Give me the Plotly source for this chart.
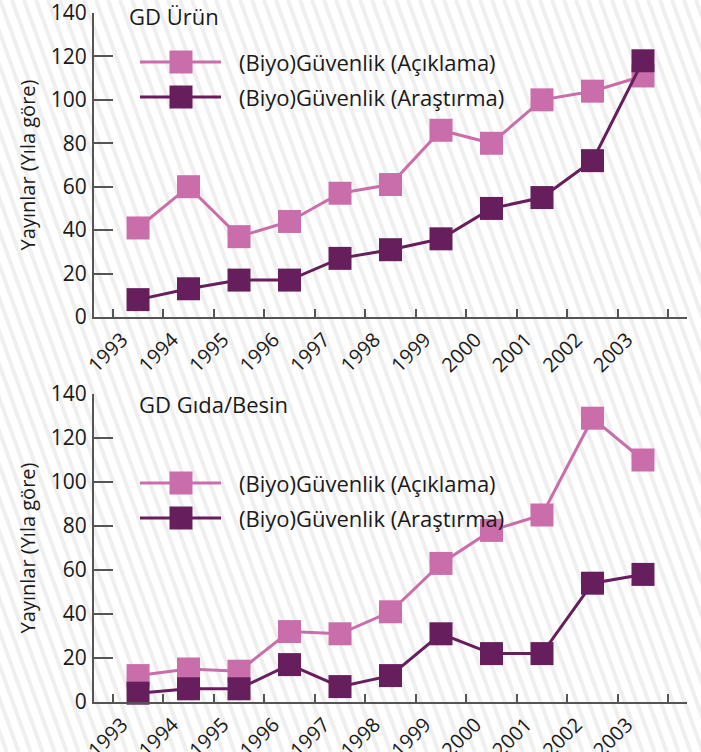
import plotly.graph_objects as go

years = ["1993", "1994", "1995", "1996", "1997", "1998", "1999", "2000", "2001", "2002", "2003"]

urun_aciklama = [41, 60, 37, 44, 57, 61, 86, 80, 100, 104, 111]
urun_arastirma = [8, 13, 17, 17, 27, 31, 36, 50, 55, 72, 118]

gida_aciklama = [12, 15, 14, 32, 31, 41, 63, 78, 85, 129, 110]
gida_arastirma = [4, 6, 6, 17, 7, 12, 31, 22, 22, 54, 58]

y_ticks = [0, 20, 40, 60, 80, 100, 120, 140]
label_aciklama = "(Biyo)Güvenlik (Açıklama)"
label_arastirma = "(Biyo)Güvenlik (Araştırma)"
y_title = "Yayınlar (Yıla göre)"
titles = ["GD Ürün", "GD Gıda/Besin"]

PINK = "#C96DAB"
DARK = "#661F5C"
AXIS = "#555555"
TXT = "#1a1a1a"
FONT = "Open Sans"
W, H = 701, 752

fig = go.Figure()

def add_series(xa, ya, vals, color, name):
    fig.add_trace(go.Scatter(
        x=years, y=vals, xaxis=xa, yaxis=ya, name=name, mode="lines+markers",
        line=dict(color=color, width=3),
        marker=dict(symbol="square", size=23, color=color),
        cliponaxis=False, showlegend=False,
    ))

add_series("x", "y", urun_aciklama, PINK, label_aciklama)
add_series("x", "y", urun_arastirma, DARK, label_arastirma)
add_series("x2", "y2", gida_aciklama, PINK, label_aciklama)
add_series("x2", "y2", gida_arastirma, DARK, label_arastirma)

def px(x):
    return x / W

def py(y):
    return 1 - y / H

xdom = [px(94), px(687)]
ydom1 = [py(317), py(13)]
ydom2 = [py(702), py(394)]

xaxis_style = dict(
    type="category", domain=xdom, showline=True, linecolor=AXIS, linewidth=2,
    ticks="inside", tickson="boundaries", ticklen=8, tickwidth=2, tickcolor=AXIS,
    tickangle=-45, tickfont=dict(family=FONT, size=20, color=TXT),
    ticklabelshift=-16, ticklabelstandoff=1, ticklabeloverflow="allow",
    showgrid=False, zeroline=False, fixedrange=True, automargin=False,
)
yaxis_style = dict(
    range=[0, 140], tickvals=y_ticks, showline=True, linecolor=AXIS, linewidth=2,
    ticks="inside", ticklen=19, tickwidth=2, tickcolor=AXIS,
    tickfont=dict(family=FONT, size=21, color=TXT), ticklabelstandoff=1,
    ticklabeloverflow="allow",
    showgrid=False, zeroline=False, fixedrange=True, automargin=False,
    title=dict(text=y_title, font=dict(family=FONT, size=20, color=TXT), standoff=10),
)

fig.update_layout(
    width=W, height=H, margin=dict(l=0, r=0, t=0, b=0),
    paper_bgcolor="white", plot_bgcolor="rgba(0,0,0,0)",
    xaxis=dict(xaxis_style, anchor="y"),
    yaxis=dict(yaxis_style, domain=ydom1, anchor="x"),
    xaxis2=dict(xaxis_style, anchor="y2"),
    yaxis2=dict(yaxis_style, domain=ydom2, anchor="x2"),
    showlegend=False,
)

shapes = []
# diagonal background stripes
segs = []
sx = -300
while sx < W + 10:
    segs.append(f"M {px(sx):.4f} 1 L {px(sx + 0.36 * H):.4f} 0")
    sx += 12
shapes.append(dict(type="path", path=" ".join(segs), xref="paper", yref="paper",
                   line=dict(color="#EFEFEF", width=4), layer="below"))

annotations = []
# titles
annotations.append(dict(text=titles[0], x=px(127), y=py(16), xref="paper", yref="paper",
                        xanchor="left", yanchor="middle", showarrow=False,
                        font=dict(family=FONT, size=22, color=TXT)))
annotations.append(dict(text=titles[1], x=px(137), y=py(404), xref="paper", yref="paper",
                        xanchor="left", yanchor="middle", showarrow=False,
                        font=dict(family=FONT, size=22, color=TXT)))

# legends (drawn as keys)
def legend_item(ypix, color, text):
    shapes.append(dict(type="line", xref="paper", yref="paper",
                       x0=px(140), x1=px(221), y0=py(ypix), y1=py(ypix),
                       line=dict(color=color, width=3)))
    shapes.append(dict(type="rect", xref="paper", yref="paper",
                       x0=px(169.5), x1=px(192.5), y0=py(ypix + 11.5), y1=py(ypix - 11.5),
                       fillcolor=color, line=dict(width=0)))
    annotations.append(dict(text=text, x=px(237), y=py(ypix), xref="paper", yref="paper",
                            xanchor="left", yanchor="middle", showarrow=False,
                            font=dict(family=FONT, size=22, color=TXT)))

legend_item(62, PINK, label_aciklama)
legend_item(97, DARK, label_arastirma)
legend_item(483, PINK, label_aciklama)
legend_item(518, DARK, label_arastirma)

fig.update_layout(shapes=shapes, annotations=annotations)
fig.write_html("out.html", config={"displayModeBar": False},
               post_script="document.body.style.margin='0';document.body.style.overflow='hidden';")
